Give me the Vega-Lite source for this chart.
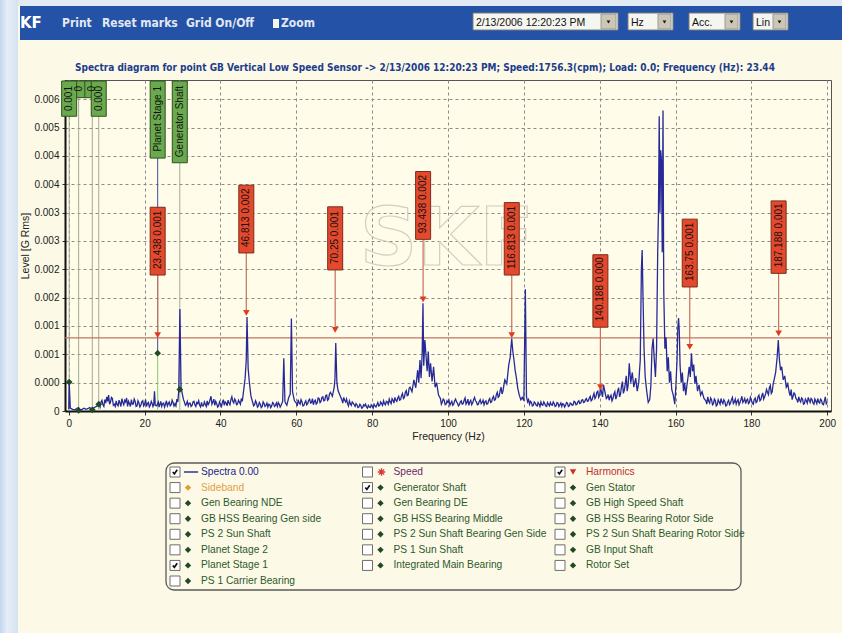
{
  "$schema": "https://vega.github.io/schema/vega-lite/v6.json",
  "width": 766,
  "height": 331,
  "autosize": "none",
  "padding": {"left": 65, "top": 80, "right": 11, "bottom": 222},
  "background": "#fcf9e6",
  "config": {
    "font": "Liberation Sans",
    "view": {"fill": "#fffdea", "stroke": "#555555", "strokeWidth": 1}
  },
  "title": {
    "text": "Spectra diagram for point GB Vertical Low Speed Sensor -> 2/13/2006 12:20:23 PM; Speed:1756.3(cpm); Load: 0.0; Frequency (Hz): 23.44",
    "font": "DejaVu Sans Condensed",
    "fontSize": 10,
    "fontWeight": "bold",
    "color": "#1d3d8d",
    "anchor": "middle",
    "frame": "group",
    "dx": -23,
    "dy": 80,
    "offset": 7
  },
  "datasets": {
    "spectrum": [
      {"f":0,"a":0.00003},{"f":0.1,"a":0.00051},{"f":0.4,"a":0.00005},{"f":1,"a":0.00003},{"f":1.5,"a":0.00002},{"f":2,"a":0.00004},{"f":2.5,"a":0.00006},{"f":3,"a":0.00002},{"f":3.5,"a":0.00003},{"f":4,"a":0.00005},{"f":4.5,"a":0.00003},{"f":5,"a":0.00004},{"f":5.5,"a":0.00006},{"f":6,"a":0.00003},{"f":6.5,"a":0.00005},{"f":7,"a":0.00007},{"f":7.5,"a":0.00009},{"f":8,"a":0.00012},{"f":8.5,"a":0.00016},{"f":9,"a":0.00011},{"f":9.5,"a":0.0002},
      {"f":10,"a":0.00025},{"f":10.5,"a":0.00028},{"f":11,"a":0.00016},{"f":11.5,"a":0.00022},{"f":12,"a":0.00012},{"f":12.5,"a":0.00018},{"f":13,"a":0.00009},{"f":13.5,"a":0.00014},{"f":14,"a":0.00022},{"f":14.5,"a":0.00011},{"f":15,"a":0.00016},{"f":15.5,"a":0.00008},{"f":16,"a":0.00013},{"f":16.5,"a":0.0002},{"f":17,"a":0.00012},{"f":17.5,"a":0.00017},{"f":18,"a":0.00009},{"f":18.5,"a":0.00014},{"f":19,"a":0.0001},{"f":19.5,"a":0.00018},
      {"f":20,"a":0.00012},{"f":20.5,"a":0.00008},{"f":21,"a":0.00015},{"f":21.5,"a":0.0001},{"f":22,"a":0.00013},{"f":22.4,"a":0.00011},{"f":22.6,"a":0.00035},{"f":22.8,"a":0.0001},{"f":23.2,"a":0.00009},{"f":23.6,"a":0.00016},{"f":24,"a":0.00011},{"f":24.5,"a":0.00008},{"f":25,"a":0.00014},{"f":25.5,"a":0.00012},{"f":26,"a":0.00009},{"f":26.5,"a":0.00016},{"f":27,"a":0.00011},{"f":27.5,"a":0.00015},{"f":28,"a":0.00013},{"f":28.5,"a":0.00021},{"f":29,"a":0.00036},{"f":29.3,"a":0.0018},{"f":29.6,"a":0.00042},
      {"f":30,"a":0.00028},{"f":30.5,"a":0.00016},{"f":31,"a":0.00012},{"f":31.5,"a":0.00009},{"f":32,"a":0.00014},{"f":32.5,"a":0.0001},{"f":33,"a":0.00017},{"f":33.5,"a":0.00008},{"f":34,"a":0.00013},{"f":34.5,"a":0.0001},{"f":35,"a":0.00015},{"f":35.5,"a":0.00009},{"f":36,"a":0.00012},{"f":36.5,"a":0.00018},{"f":37,"a":0.00014},{"f":37.5,"a":0.00026},{"f":38,"a":0.00016},{"f":38.5,"a":0.0001},{"f":39,"a":0.00013},{"f":39.5,"a":0.00009},
      {"f":40,"a":0.00012},{"f":40.5,"a":0.00015},{"f":41,"a":0.0001},{"f":41.5,"a":0.00014},{"f":42,"a":0.00019},{"f":42.5,"a":0.00011},{"f":43,"a":0.00025},{"f":43.5,"a":0.00014},{"f":44,"a":0.00018},{"f":44.5,"a":0.00012},{"f":45,"a":0.00016},{"f":45.5,"a":0.00022},{"f":46,"a":0.0003},{"f":46.5,"a":0.00058},{"f":46.8,"a":0.0009},{"f":47,"a":0.00166},{"f":47.3,"a":0.00075},{"f":47.6,"a":0.00052},{"f":48,"a":0.00028},{"f":48.5,"a":0.00015},{"f":49,"a":0.00011},{"f":49.5,"a":0.00014},
      {"f":50,"a":0.00009},{"f":50.5,"a":0.00012},{"f":51,"a":0.00008},{"f":51.5,"a":0.00013},{"f":52,"a":0.0001},{"f":52.5,"a":0.00007},{"f":53,"a":0.00011},{"f":53.5,"a":0.00009},{"f":54,"a":0.00013},{"f":54.5,"a":0.0001},{"f":55,"a":0.00008},{"f":55.5,"a":0.00012},{"f":56,"a":0.0001},{"f":56.4,"a":0.00017},{"f":56.7,"a":0.00093},{"f":57,"a":0.00016},{"f":57.5,"a":0.0001},{"f":58,"a":0.00024},{"f":58.4,"a":0.0003},{"f":58.7,"a":0.00163},{"f":59,"a":0.00034},{"f":59.5,"a":0.00018},
      {"f":60,"a":0.00014},{"f":60.5,"a":0.0002},{"f":61,"a":0.00012},{"f":61.5,"a":0.00016},{"f":62,"a":0.0001},{"f":62.5,"a":0.00018},{"f":63,"a":0.00013},{"f":63.5,"a":0.00021},{"f":64,"a":0.00015},{"f":64.5,"a":0.00011},{"f":65,"a":0.00019},{"f":65.5,"a":0.00014},{"f":66,"a":0.00022},{"f":66.5,"a":0.00017},{"f":67,"a":0.00025},{"f":67.5,"a":0.00019},{"f":68,"a":0.00028},{"f":68.5,"a":0.00021},{"f":69,"a":0.00033},{"f":69.5,"a":0.00026},{"f":70,"a":0.00042},{"f":70.2,"a":0.00058},{"f":70.4,"a":0.0012},{"f":70.7,"a":0.0005},{"f":71,"a":0.00036},{"f":71.5,"a":0.00028},
      {"f":72,"a":0.0002},{"f":72.5,"a":0.00024},{"f":73,"a":0.00016},{"f":73.5,"a":0.00013},{"f":74,"a":0.00018},{"f":74.5,"a":0.0001},{"f":75,"a":0.00014},{"f":75.5,"a":0.00008},{"f":76,"a":0.00011},{"f":76.5,"a":0.00007},{"f":77,"a":0.0001},{"f":77.5,"a":0.00006},{"f":78,"a":0.00009},{"f":78.5,"a":0.00007},{"f":79,"a":0.0001},{"f":79.5,"a":0.00006},
      {"f":80,"a":0.00008},{"f":80.5,"a":0.00012},{"f":81,"a":0.00007},{"f":81.5,"a":0.00015},{"f":82,"a":0.0001},{"f":82.5,"a":0.00013},{"f":83,"a":0.00018},{"f":83.5,"a":0.00011},{"f":84,"a":0.00016},{"f":84.5,"a":0.00021},{"f":85,"a":0.00013},{"f":85.5,"a":0.00019},{"f":86,"a":0.00024},{"f":86.5,"a":0.00017},{"f":87,"a":0.00026},{"f":87.5,"a":0.0002},{"f":88,"a":0.00031},{"f":88.5,"a":0.00024},{"f":89,"a":0.00036},{"f":89.5,"a":0.00028},
      {"f":90,"a":0.00042},{"f":90.5,"a":0.00034},{"f":91,"a":0.00055},{"f":91.5,"a":0.00041},{"f":92,"a":0.00072},{"f":92.3,"a":0.0005},{"f":92.6,"a":0.0009},{"f":92.9,"a":0.00058},{"f":93.2,"a":0.00104},{"f":93.4,"a":0.0019},{"f":93.6,"a":0.0008},{"f":93.9,"a":0.00125},{"f":94.2,"a":0.00098},{"f":94.5,"a":0.0007},{"f":94.8,"a":0.00105},{"f":95.1,"a":0.0006},{"f":95.4,"a":0.00084},{"f":95.8,"a":0.00052},{"f":96.2,"a":0.00078},{"f":96.6,"a":0.00042},{"f":97,"a":0.0005},{"f":97.5,"a":0.00028},{"f":98,"a":0.00022},{"f":98.5,"a":0.00016},{"f":99,"a":0.00019},{"f":99.5,"a":0.00012},
      {"f":100,"a":0.00015},{"f":100.5,"a":0.0001},{"f":101,"a":0.00017},{"f":101.5,"a":0.00012},{"f":102,"a":0.00021},{"f":102.5,"a":0.00014},{"f":103,"a":0.00011},{"f":103.5,"a":0.00018},{"f":104,"a":0.00013},{"f":104.5,"a":0.00023},{"f":105,"a":0.00015},{"f":105.5,"a":0.0001},{"f":106,"a":0.00019},{"f":106.5,"a":0.00014},{"f":107,"a":0.00024},{"f":107.5,"a":0.00016},{"f":108,"a":0.00012},{"f":108.5,"a":0.0002},{"f":109,"a":0.00015},{"f":109.5,"a":0.00011},
      {"f":110,"a":0.00018},{"f":110.5,"a":0.00013},{"f":111,"a":0.00022},{"f":111.5,"a":0.00016},{"f":112,"a":0.00026},{"f":112.5,"a":0.0002},{"f":113,"a":0.00033},{"f":113.5,"a":0.00026},{"f":114,"a":0.00042},{"f":114.5,"a":0.00035},{"f":115,"a":0.00055},{"f":115.5,"a":0.00048},{"f":116,"a":0.0008},{"f":116.4,"a":0.00095},{"f":116.8,"a":0.00128},{"f":117.1,"a":0.00105},{"f":117.4,"a":0.0009},{"f":117.7,"a":0.00072},{"f":118,"a":0.0006},{"f":118.4,"a":0.0004},{"f":118.8,"a":0.00028},{"f":119.2,"a":0.0002},{"f":119.6,"a":0.00024},{"f":120,"a":0.00018},{"f":120.4,"a":0.00215},{"f":120.7,"a":0.00025},
      {"f":121,"a":0.00016},{"f":121.5,"a":0.00012},{"f":122,"a":0.00015},{"f":122.5,"a":0.0001},{"f":123,"a":0.00014},{"f":123.5,"a":0.00009},{"f":124,"a":0.00012},{"f":124.5,"a":0.00016},{"f":125,"a":0.0001},{"f":125.5,"a":0.00013},{"f":126,"a":0.00008},{"f":126.5,"a":0.00012},{"f":127,"a":0.00015},{"f":127.5,"a":0.0001},{"f":128,"a":0.00013},{"f":128.5,"a":0.00009},{"f":129,"a":0.00014},{"f":129.5,"a":0.00011},
      {"f":130,"a":0.00008},{"f":130.5,"a":0.00012},{"f":131,"a":0.0001},{"f":131.5,"a":0.00014},{"f":132,"a":0.00009},{"f":132.5,"a":0.00013},{"f":133,"a":0.00011},{"f":133.5,"a":0.00016},{"f":134,"a":0.00012},{"f":134.5,"a":0.00018},{"f":135,"a":0.00014},{"f":135.5,"a":0.0002},{"f":136,"a":0.00016},{"f":136.5,"a":0.00022},{"f":137,"a":0.00018},{"f":137.5,"a":0.00026},{"f":138,"a":0.0002},{"f":138.5,"a":0.00031},{"f":139,"a":0.00025},{"f":139.5,"a":0.00035},
      {"f":140,"a":0.00028},{"f":140.2,"a":0.00042},{"f":140.5,"a":0.00033},{"f":141,"a":0.00046},{"f":141.5,"a":0.0003},{"f":142,"a":0.00024},{"f":142.5,"a":0.00019},{"f":143,"a":0.00028},{"f":143.5,"a":0.00022},{"f":144,"a":0.00034},{"f":144.5,"a":0.00026},{"f":145,"a":0.00041},{"f":145.5,"a":0.0003},{"f":146,"a":0.00052},{"f":146.5,"a":0.00037},{"f":147,"a":0.00062},{"f":147.5,"a":0.00045},{"f":147.8,"a":0.00084},{"f":148.2,"a":0.0005},{"f":148.6,"a":0.00068},{"f":149,"a":0.00042},{"f":149.5,"a":0.00058},{"f":149.9,"a":0.00035},
      {"f":150.3,"a":0.0005},{"f":150.7,"a":0.0009},{"f":151,"a":0.0025},{"f":151.2,"a":0.00284},{"f":151.4,"a":0.0021},{"f":151.7,"a":0.0011},{"f":152,"a":0.0006},{"f":152.4,"a":0.00035},{"f":152.8,"a":0.00015},{"f":153.2,"a":0.0002},{"f":153.5,"a":0.00045},{"f":153.8,"a":0.0011},{"f":154.1,"a":0.00128},{"f":154.4,"a":0.0009},{"f":154.7,"a":0.0006},{"f":155,"a":0.0011},{"f":155.3,"a":0.0028},{"f":155.5,"a":0.0035},{"f":155.7,"a":0.0052},{"f":155.9,"a":0.0035},{"f":156.1,"a":0.0046},{"f":156.3,"a":0.0044},{"f":156.5,"a":0.0028},{"f":156.7,"a":0.0053},{"f":156.9,"a":0.0021},{"f":157.2,"a":0.0011},{"f":157.5,"a":0.0013},{"f":157.8,"a":0.0007},{"f":158.1,"a":0.00095},{"f":158.4,"a":0.0005},{"f":158.7,"a":0.0007},{"f":159,"a":0.00038},{"f":159.4,"a":0.00028},{"f":159.8,"a":0.00012},
      {"f":160.1,"a":0.00045},{"f":160.4,"a":0.0009},{"f":160.6,"a":0.00145},{"f":160.8,"a":0.00164},{"f":161,"a":0.0014},{"f":161.2,"a":0.0008},{"f":161.5,"a":0.0005},{"f":161.8,"a":0.00068},{"f":162.1,"a":0.00035},{"f":162.4,"a":0.0005},{"f":162.7,"a":0.00028},{"f":163,"a":0.00045},{"f":163.3,"a":0.0006},{"f":163.6,"a":0.00078},{"f":163.9,"a":0.0006},{"f":164.2,"a":0.00102},{"f":164.5,"a":0.0007},{"f":164.8,"a":0.00082},{"f":165.1,"a":0.00048},{"f":165.4,"a":0.00062},{"f":165.8,"a":0.00035},{"f":166.2,"a":0.00046},{"f":166.6,"a":0.00028},{"f":167,"a":0.00034},{"f":167.5,"a":0.00022},{"f":168,"a":0.00018},{"f":168.5,"a":0.00025},{"f":169,"a":0.00014},{"f":169.5,"a":0.0002},
      {"f":170,"a":0.00013},{"f":170.5,"a":0.00018},{"f":171,"a":0.00011},{"f":171.5,"a":0.00016},{"f":172,"a":0.00022},{"f":172.5,"a":0.00013},{"f":173,"a":0.00017},{"f":173.5,"a":0.0001},{"f":174,"a":0.00019},{"f":174.5,"a":0.00014},{"f":175,"a":0.00024},{"f":175.5,"a":0.00016},{"f":176,"a":0.00012},{"f":176.5,"a":0.0002},{"f":177,"a":0.00015},{"f":177.5,"a":0.00026},{"f":178,"a":0.00018},{"f":178.5,"a":0.00013},{"f":179,"a":0.00021},{"f":179.5,"a":0.00015},
      {"f":180,"a":0.00019},{"f":180.5,"a":0.00012},{"f":181,"a":0.00023},{"f":181.5,"a":0.00017},{"f":182,"a":0.00028},{"f":182.5,"a":0.0002},{"f":183,"a":0.00032},{"f":183.5,"a":0.00025},{"f":184,"a":0.00038},{"f":184.5,"a":0.00029},{"f":185,"a":0.00045},{"f":185.5,"a":0.00034},{"f":186,"a":0.00055},{"f":186.4,"a":0.00068},{"f":186.8,"a":0.00095},{"f":187.1,"a":0.00125},{"f":187.4,"a":0.0009},{"f":187.7,"a":0.00072},{"f":188,"a":0.00078},{"f":188.4,"a":0.00055},{"f":188.8,"a":0.00062},{"f":189.2,"a":0.00042},{"f":189.6,"a":0.00048},
      {"f":190,"a":0.00032},{"f":190.5,"a":0.00038},{"f":191,"a":0.00026},{"f":191.5,"a":0.0003},{"f":192,"a":0.0002},{"f":192.5,"a":0.00025},{"f":193,"a":0.00016},{"f":193.5,"a":0.00021},{"f":194,"a":0.00013},{"f":194.5,"a":0.00018},{"f":195,"a":0.00024},{"f":195.5,"a":0.00015},{"f":196,"a":0.0002},{"f":196.5,"a":0.00012},{"f":197,"a":0.00017},{"f":197.5,"a":0.00022},{"f":198,"a":0.00014},{"f":198.5,"a":0.00019},{"f":199,"a":0.00011},{"f":199.5,"a":0.00025},{"f":200,"a":0.00016},
      {"f":8.25,"a":0.00007},{"f":8.75,"a":0.00019},{"f":9.25,"a":0.00008},{"f":9.75,"a":0.00014},{"f":10.25,"a":0.00017},{"f":10.75,"a":0.00012},{"f":11.25,"a":0.00024},{"f":11.75,"a":0.0001},{"f":12.25,"a":0.00008},{"f":12.75,"a":0.00011},{"f":13.25,"a":0.00019},{"f":13.75,"a":0.00008},{"f":14.25,"a":0.00015},{"f":14.75,"a":0.00019},{"f":15.25,"a":0.00023},{"f":15.75,"a":0.00017},{"f":16.25,"a":0.00008},{"f":16.75,"a":0.00012},{"f":17.25,"a":0.00021},{"f":17.75,"a":0.00008},{"f":18.25,"a":0.00018},{"f":18.75,"a":0.00007},{"f":19.25,"a":0.00016},{"f":19.75,"a":0.00009},
      {"f":20.25,"a":0.0002},{"f":20.75,"a":0.00013},{"f":21.25,"a":0.00007},{"f":21.75,"a":0.00017},{"f":22.2,"a":0.00008},{"f":23.4,"a":0.00013},{"f":23.8,"a":0.00007},{"f":24.25,"a":0.00017},{"f":24.75,"a":0.00013},{"f":25.25,"a":0.00007},{"f":25.75,"a":0.00018},{"f":26.25,"a":0.00013},{"f":26.75,"a":0.00009},{"f":27.25,"a":0.00019},{"f":27.75,"a":0.00009},{"f":28.25,"a":0.00009},{"f":28.75,"a":0.00016},
      {"f":30.25,"a":0.0002},{"f":30.75,"a":0.0001},{"f":31.25,"a":0.00017},{"f":31.75,"a":0.00014},{"f":32.25,"a":0.00008},{"f":32.75,"a":0.00016},{"f":33.25,"a":0.00011},{"f":33.75,"a":0.00015},{"f":34.25,"a":0.00018},{"f":34.75,"a":0.00007},{"f":35.25,"a":0.00009},{"f":35.75,"a":0.00016},{"f":36.25,"a":0.00008},{"f":36.75,"a":0.00011},{"f":37.25,"a":0.0002},{"f":37.75,"a":0.00012},{"f":38.25,"a":0.00021},{"f":38.75,"a":0.00017},{"f":39.25,"a":0.00007},{"f":39.75,"a":0.00016},
      {"f":40.25,"a":0.00008},{"f":40.75,"a":0.0002},{"f":41.25,"a":0.00016},{"f":41.75,"a":0.00009},{"f":42.25,"a":0.00014},{"f":42.75,"a":0.0002},{"f":43.25,"a":0.00017},{"f":43.75,"a":0.00021},{"f":44.25,"a":0.00011},{"f":44.75,"a":0.00019},{"f":45.25,"a":0.00012},{"f":45.75,"a":0.00017},
      {"f":48.25,"a":0.00021},{"f":48.75,"a":0.00009},{"f":49.25,"a":0.00018},{"f":49.75,"a":0.00007},{"f":50.25,"a":0.00015},{"f":50.75,"a":0.00006},{"f":51.25,"a":0.00016},{"f":51.75,"a":0.00008},{"f":52.25,"a":0.00014},{"f":52.75,"a":0.00012},{"f":53.25,"a":0.00006},{"f":53.75,"a":0.00015},{"f":54.25,"a":0.00008},{"f":54.75,"a":0.00014},{"f":55.25,"a":0.00015},{"f":55.75,"a":0.00007},
      {"f":60.25,"a":0.00009},{"f":60.75,"a":0.00014},{"f":61.25,"a":0.0002},{"f":61.75,"a":0.00009},{"f":62.25,"a":0.00015},{"f":62.75,"a":0.00011},{"f":63.25,"a":0.00019},{"f":63.75,"a":0.00014},{"f":64.25,"a":0.00022},{"f":64.75,"a":0.00017},{"f":65.25,"a":0.00012},{"f":65.75,"a":0.00023},{"f":66.25,"a":0.00015},{"f":66.75,"a":0.00024},{"f":67.25,"a":0.00018},{"f":67.75,"a":0.00027},{"f":68.25,"a":0.00019},{"f":68.75,"a":0.0003},
      {"f":72.25,"a":0.00014},{"f":72.75,"a":0.00019},{"f":73.25,"a":0.00021},{"f":73.75,"a":0.00009},{"f":74.25,"a":0.00013},{"f":74.75,"a":0.00016},{"f":75.25,"a":0.00011},{"f":75.75,"a":0.00013},{"f":76.25,"a":0.00006},{"f":76.75,"a":0.00012},{"f":77.25,"a":0.00005},{"f":77.75,"a":0.00011},{"f":78.25,"a":0.00012},{"f":78.75,"a":0.00005},{"f":79.25,"a":0.00007},{"f":79.75,"a":0.00011},
      {"f":80.25,"a":0.00005},{"f":80.75,"a":0.00009},{"f":81.25,"a":0.00011},{"f":81.75,"a":0.00009},{"f":82.25,"a":0.00016},{"f":82.75,"a":0.0001},{"f":83.25,"a":0.00013},{"f":83.75,"a":0.00017},{"f":84.25,"a":0.00012},{"f":84.75,"a":0.00016},{"f":85.25,"a":0.00022},{"f":85.75,"a":0.00014},{"f":86.25,"a":0.00019},{"f":86.75,"a":0.00023},{"f":87.25,"a":0.00019},{"f":87.75,"a":0.00027},{"f":88.25,"a":0.00022},{"f":88.75,"a":0.00033},{"f":89.25,"a":0.00027},{"f":89.75,"a":0.0004},
      {"f":98.25,"a":0.00012},{"f":98.75,"a":0.00021},{"f":99.25,"a":0.00011},{"f":99.75,"a":0.00018},{"f":100.25,"a":0.00019},{"f":100.75,"a":0.00014},{"f":101.25,"a":0.0001},{"f":101.75,"a":0.00018},{"f":102.25,"a":0.00016},{"f":102.75,"a":0.00009},{"f":103.25,"a":0.00016},{"f":103.75,"a":0.00012},{"f":104.25,"a":0.00019},{"f":104.75,"a":0.00012},{"f":105.25,"a":0.00021},{"f":105.75,"a":0.00016},{"f":106.25,"a":0.00011},{"f":106.75,"a":0.0002},{"f":107.25,"a":0.00018},{"f":107.75,"a":0.00011},{"f":108.25,"a":0.00017},{"f":108.75,"a":0.00013},{"f":109.25,"a":0.00019},{"f":109.75,"a":0.00016},
      {"f":110.25,"a":0.00012},{"f":110.75,"a":0.00019},{"f":111.25,"a":0.00015},{"f":111.75,"a":0.00023},{"f":112.25,"a":0.00019},{"f":112.75,"a":0.00029},{"f":113.25,"a":0.00024},{"f":113.75,"a":0.00036},{"f":114.25,"a":0.0003},{"f":114.75,"a":0.00046},
      {"f":121.25,"a":0.0002},{"f":121.75,"a":0.00017},{"f":122.25,"a":0.00009},{"f":122.75,"a":0.00016},{"f":123.25,"a":0.0001},{"f":123.75,"a":0.00015},{"f":124.25,"a":0.00008},{"f":124.75,"a":0.00011},{"f":125.25,"a":0.00016},{"f":125.75,"a":0.00009},{"f":126.25,"a":0.00015},{"f":126.75,"a":0.00009},{"f":127.25,"a":0.00011},{"f":127.75,"a":0.00016},{"f":128.25,"a":0.00008},{"f":128.75,"a":0.00015},{"f":129.25,"a":0.00008},{"f":129.75,"a":0.00014},
      {"f":130.25,"a":0.00013},{"f":130.75,"a":0.00007},{"f":131.25,"a":0.00015},{"f":131.75,"a":0.00008},{"f":132.25,"a":0.00014},{"f":132.75,"a":0.0001},{"f":133.25,"a":0.00017},{"f":133.75,"a":0.00011},{"f":134.25,"a":0.00016},{"f":134.75,"a":0.00013},{"f":135.25,"a":0.00019},{"f":135.75,"a":0.00015},{"f":136.25,"a":0.0002},{"f":136.75,"a":0.00017},{"f":137.25,"a":0.00023},{"f":137.75,"a":0.00018},{"f":138.25,"a":0.00026},{"f":138.75,"a":0.00022},{"f":139.25,"a":0.00033},{"f":139.75,"a":0.00024},
      {"f":140.75,"a":0.00025},{"f":141.25,"a":0.00038},{"f":141.75,"a":0.00022},{"f":142.25,"a":0.00029},{"f":142.75,"a":0.00025},{"f":143.25,"a":0.00018},{"f":143.75,"a":0.0003},{"f":144.25,"a":0.00021},{"f":144.75,"a":0.00036},{"f":145.25,"a":0.00025},{"f":145.75,"a":0.00044},{"f":146.25,"a":0.00031},{"f":146.75,"a":0.00048},{"f":147.25,"a":0.00035},
      {"f":168.25,"a":0.00012},{"f":168.75,"a":0.00017},{"f":169.25,"a":0.00023},{"f":169.75,"a":0.00011},{"f":170.25,"a":0.00021},{"f":170.75,"a":0.00009},{"f":171.25,"a":0.0002},{"f":171.75,"a":0.00012},{"f":172.25,"a":0.00016},{"f":172.75,"a":0.0002},{"f":173.25,"a":0.00009},{"f":173.75,"a":0.00016},{"f":174.25,"a":0.00011},{"f":174.75,"a":0.0002},{"f":175.25,"a":0.00013},{"f":175.75,"a":0.00021},{"f":176.25,"a":0.00017},{"f":176.75,"a":0.00011},{"f":177.25,"a":0.0002},{"f":177.75,"a":0.00015},{"f":178.25,"a":0.00022},{"f":178.75,"a":0.00019},{"f":179.25,"a":0.00013},{"f":179.75,"a":0.00024},
      {"f":180.25,"a":0.00014},{"f":180.75,"a":0.0002},{"f":181.25,"a":0.00015},{"f":181.75,"a":0.00025},{"f":182.25,"a":0.00018},{"f":182.75,"a":0.00027},{"f":183.25,"a":0.00021},{"f":183.75,"a":0.0003},{"f":184.25,"a":0.00033},{"f":184.75,"a":0.00041},{"f":185.25,"a":0.00031},{"f":185.75,"a":0.00048},
      {"f":190.25,"a":0.00027},{"f":190.75,"a":0.0002},{"f":191.25,"a":0.00032},{"f":191.75,"a":0.00022},{"f":192.25,"a":0.00015},{"f":192.75,"a":0.00019},{"f":193.25,"a":0.00023},{"f":193.75,"a":0.00012},{"f":194.25,"a":0.00021},{"f":194.75,"a":0.00014},{"f":195.25,"a":0.00019},{"f":195.75,"a":0.00022},{"f":196.25,"a":0.00014},{"f":196.75,"a":0.00021},{"f":197.25,"a":0.00013},{"f":197.75,"a":0.00016},{"f":198.25,"a":0.00021},{"f":198.75,"a":0.00012},{"f":199.25,"a":0.00018},{"f":199.75,"a":0.00013}
    ],
    "harmonics": [
      {"f":23.438,"lvl":0.00134,"label":"23.438 0.001"},
      {"f":46.813,"lvl":0.00173,"label":"46.813 0.002"},
      {"f":70.25,"lvl":0.00143,"label":"70.25 0.001"},
      {"f":93.438,"lvl":0.00197,"label":"93.438 0.002"},
      {"f":116.813,"lvl":0.00134,"label":"116.813 0.001"},
      {"f":140.188,"lvl":0.00042,"label":"140.188 0.000"},
      {"f":163.75,"lvl":0.00113,"label":"163.75 0.001"},
      {"f":187.188,"lvl":0.00137,"label":"187.188 0.001"}
    ],
    "markers": [
      {"f":2.6,"lvl":0.00001,"tag":"0"},
      {"f":0.1,"lvl":0.00051,"tag":"0.001"},
      {"f":6.2,"lvl":0.00002,"tag":"0"},
      {"f":7.9,"lvl":0.00012,"tag":"0.000"},
      {"f":23.44,"lvl":0.00102,"tag":"Planet Stage 1"},
      {"f":29.27,"lvl":0.00038,"tag":"Generator Shaft"}
    ],
    "legend": [
      {"name":"Spectra 0.00","col":1,"row":1,"kind":"spectra","on":true},
      {"name":"Speed","col":2,"row":1,"kind":"speed","on":false},
      {"name":"Harmonics","col":3,"row":1,"kind":"harmonic","on":true},
      {"name":"Sideband","col":1,"row":2,"kind":"sideband","on":false},
      {"name":"Generator Shaft","col":2,"row":2,"kind":"fault","on":true},
      {"name":"Gen Stator","col":3,"row":2,"kind":"fault","on":false},
      {"name":"Gen Bearing NDE","col":1,"row":3,"kind":"fault","on":false},
      {"name":"Gen Bearing DE","col":2,"row":3,"kind":"fault","on":false},
      {"name":"GB High Speed Shaft","col":3,"row":3,"kind":"fault","on":false},
      {"name":"GB HSS Bearing Gen side","col":1,"row":4,"kind":"fault","on":false},
      {"name":"GB HSS Bearing Middle","col":2,"row":4,"kind":"fault","on":false},
      {"name":"GB HSS Bearing Rotor Side","col":3,"row":4,"kind":"fault","on":false},
      {"name":"PS 2 Sun Shaft","col":1,"row":5,"kind":"fault","on":false},
      {"name":"PS 2 Sun Shaft Bearing Gen Side","col":2,"row":5,"kind":"fault","on":false},
      {"name":"PS 2 Sun Shaft Bearing Rotor Side","col":3,"row":5,"kind":"fault","on":false},
      {"name":"Planet Stage 2","col":1,"row":6,"kind":"fault","on":false},
      {"name":"PS 1 Sun Shaft","col":2,"row":6,"kind":"fault","on":false},
      {"name":"GB Input Shaft","col":3,"row":6,"kind":"fault","on":false},
      {"name":"Planet Stage 1","col":1,"row":7,"kind":"fault","on":true},
      {"name":"Integrated Main Bearing","col":2,"row":7,"kind":"fault","on":false},
      {"name":"Rotor Set","col":3,"row":7,"kind":"fault","on":false},
      {"name":"PS 1 Carrier Bearing","col":1,"row":8,"kind":"fault","on":false}
    ]
  },
  "layer": [
    {
      "layer": [
        {"data": {"values": [{}]}, "mark": {"type": "rect", "x": -65, "x2": -47, "y": -80, "y2": 553, "fill": {"gradient": "linear", "x1": 0, "y1": 0, "x2": 1, "y2": 0, "stops": [{"offset": 0, "color": "#c3d6ee"}, {"offset": 0.4, "color": "#e6eef8"}, {"offset": 1, "color": "#d4e2f1"}]}}, "encoding": {}},
        {"data": {"values": [{}]}, "mark": {"type": "rect", "x": -47, "x2": 777, "y": -80, "y2": -74, "fill": "#e1e9f3"}, "encoding": {}},
        {"data": {"values": [{}]}, "mark": {"type": "rect", "x": -45, "x2": 777, "y": -74, "y2": -40, "fill": "#2452a6"}, "encoding": {}},
        {"data": {"values": [{}]}, "mark": {"type": "text", "x": -45, "y": -52, "text": "KF", "font": "DejaVu Sans", "fontSize": 15, "fontWeight": "bold", "color": "#ffffff", "align": "left", "baseline": "alphabetic"}, "encoding": {}},
        {"data": {"values": [{}]}, "mark": {"type": "text", "x": -3, "y": -53, "text": "Print", "font": "DejaVu Sans Condensed", "fontSize": 12, "fontWeight": "bold", "color": "#e2e8f3", "align": "left", "baseline": "alphabetic"}, "encoding": {}},
        {"data": {"values": [{}]}, "mark": {"type": "text", "x": 37, "y": -53, "text": "Reset marks", "font": "DejaVu Sans Condensed", "fontSize": 12, "fontWeight": "bold", "color": "#e2e8f3", "align": "left", "baseline": "alphabetic"}, "encoding": {}},
        {"data": {"values": [{}]}, "mark": {"type": "text", "x": 121, "y": -53, "text": "Grid On/Off", "font": "DejaVu Sans Condensed", "fontSize": 12, "fontWeight": "bold", "color": "#e2e8f3", "align": "left", "baseline": "alphabetic"}, "encoding": {}},
        {"data": {"values": [{}]}, "mark": {"type": "rect", "x": 208, "x2": 214, "y": -61, "y2": -52, "fill": "#f4f4f4"}, "encoding": {}},
        {"data": {"values": [{}]}, "mark": {"type": "text", "x": 216, "y": -53, "text": "Zoom", "font": "DejaVu Sans Condensed", "fontSize": 12, "fontWeight": "bold", "color": "#e2e8f3", "align": "left", "baseline": "alphabetic"}, "encoding": {}},
        {"data": {"values": [{}]}, "mark": {"type": "rect", "x": 408, "x2": 553, "y": -67, "y2": -50, "fill": "#f6f6f0", "stroke": "#7a7a7a", "strokeWidth": 1}, "encoding": {}},
        {"data": {"values": [{}]}, "mark": {"type": "text", "x": 411, "y": -54, "text": "2/13/2006 12:20:23 PM", "font": "Liberation Sans", "fontSize": 10.5, "color": "#111111", "align": "left", "baseline": "alphabetic"}, "encoding": {}},
        {"data": {"values": [{}]}, "mark": {"type": "rect", "x": 536, "x2": 551, "y": -66, "y2": -51, "fill": "#cbc6b6", "stroke": "#9a9a9a", "strokeWidth": 1}, "encoding": {}},
        {"data": {"values": [{}]}, "mark": {"type": "rect", "x": 563, "x2": 608, "y": -67, "y2": -50, "fill": "#f6f6f0", "stroke": "#7a7a7a", "strokeWidth": 1}, "encoding": {}},
        {"data": {"values": [{}]}, "mark": {"type": "text", "x": 566, "y": -54, "text": "Hz", "font": "Liberation Sans", "fontSize": 10.5, "color": "#111111", "align": "left", "baseline": "alphabetic"}, "encoding": {}},
        {"data": {"values": [{}]}, "mark": {"type": "rect", "x": 593, "x2": 606, "y": -66, "y2": -51, "fill": "#cbc6b6", "stroke": "#9a9a9a", "strokeWidth": 1}, "encoding": {}},
        {"data": {"values": [{}]}, "mark": {"type": "rect", "x": 624, "x2": 675, "y": -67, "y2": -50, "fill": "#f6f6f0", "stroke": "#7a7a7a", "strokeWidth": 1}, "encoding": {}},
        {"data": {"values": [{}]}, "mark": {"type": "text", "x": 627, "y": -54, "text": "Acc.", "font": "Liberation Sans", "fontSize": 10.5, "color": "#111111", "align": "left", "baseline": "alphabetic"}, "encoding": {}},
        {"data": {"values": [{}]}, "mark": {"type": "rect", "x": 660, "x2": 673, "y": -66, "y2": -51, "fill": "#cbc6b6", "stroke": "#9a9a9a", "strokeWidth": 1}, "encoding": {}},
        {"data": {"values": [{}]}, "mark": {"type": "rect", "x": 688, "x2": 723, "y": -67, "y2": -50, "fill": "#f6f6f0", "stroke": "#7a7a7a", "strokeWidth": 1}, "encoding": {}},
        {"data": {"values": [{}]}, "mark": {"type": "text", "x": 691, "y": -54, "text": "Lin", "font": "Liberation Sans", "fontSize": 10.5, "color": "#111111", "align": "left", "baseline": "alphabetic"}, "encoding": {}},
        {"data": {"values": [{}]}, "mark": {"type": "rect", "x": 708, "x2": 721, "y": -66, "y2": -51, "fill": "#cbc6b6", "stroke": "#9a9a9a", "strokeWidth": 1}, "encoding": {}},
        {"data": {"values": [{}]}, "mark": {"type": "point", "shape": "triangle-down", "filled": true, "color": "#111111", "size": 14, "x": 543.5, "y": -58, "opacity": 1}, "encoding": {}},
        {"data": {"values": [{}]}, "mark": {"type": "point", "shape": "triangle-down", "filled": true, "color": "#111111", "size": 14, "x": 599.5, "y": -58, "opacity": 1}, "encoding": {}},
        {"data": {"values": [{}]}, "mark": {"type": "point", "shape": "triangle-down", "filled": true, "color": "#111111", "size": 14, "x": 666.5, "y": -58, "opacity": 1}, "encoding": {}},
        {"data": {"values": [{}]}, "mark": {"type": "point", "shape": "triangle-down", "filled": true, "color": "#111111", "size": 14, "x": 714.5, "y": -58, "opacity": 1}, "encoding": {}},
        {
          "data": {"values": [{"mark": "SKF"}]},
          "mark": {"type": "text", "fontSize": 80, "fontWeight": "bold", "font": "DejaVu Sans", "fill": "transparent", "stroke": "#d3cfbd", "strokeWidth": 1.2, "baseline": "middle", "align": "center"},
          "encoding": {"x": {"datum": 99.7, "type": "quantitative"}, "y": {"datum": 0.003, "type": "quantitative"}, "text": {"field": "mark", "type": "nominal"}}
        },
        {
          "data": {"name": "markers"},
          "mark": {"type": "rule", "strokeWidth": 1},
          "encoding": {
            "x": {"field": "f", "type": "quantitative", "title": "Frequency (Hz)"},
            "y": {"field": "lvl", "type": "quantitative", "title": "Level [G Rms]"},
            "y2": {"value": 0},
            "color": {"condition": {"test": "datum.tag === 'Planet Stage 1'", "value": "#3d4d9e"}, "value": "#a5ab8e"}
          }
        },
        {
          "data": {"name": "markers"},
          "mark": {"type": "rule", "strokeWidth": 1},
          "encoding": {
            "x": {"field": "f", "type": "quantitative", "title": "Frequency (Hz)"},
            "y": {"field": "lvl", "type": "quantitative", "title": "Level [G Rms]"},
            "y2": {"value": 331},
            "color": {"condition": {"test": "datum.tag === 'Planet Stage 1'", "value": "#7fcf66"}, "value": "#a5ab8e"}
          }
        },
        {
          "data": {"values": [{"alarm": 0.00129}]},
          "mark": {"type": "rule", "color": "#c27462", "strokeWidth": 1.2},
          "encoding": {"y": {"field": "alarm", "type": "quantitative", "title": "Level [G Rms]"}}
        },
        {
          "data": {"name": "spectrum"},
          "mark": {"type": "line", "color": "#262a98", "strokeWidth": 1.3},
          "encoding": {
            "x": {"field": "f", "type": "quantitative", "title": "Frequency (Hz)",
              "scale": {"domain": [-1, 201], "nice": false, "zero": false},
              "axis": {"values": [0, 20, 40, 60, 80, 100, 120, 140, 160, 180, 200], "tickCount": 30, "grid": true, "gridDash": [3, 3], "gridColor": "#8a8a8a", "gridWidth": 1, "domainColor": "#111111", "domainWidth": 2, "tickColor": "#333333", "tickSize": 4, "labelPadding": 3, "labelFontSize": 10, "labelColor": "#222222", "titleFontSize": 10.5, "titleFontWeight": "normal", "titleColor": "#222222", "titlePadding": 3, "labelFlush": false}},
            "y": {"field": "a", "type": "quantitative", "title": "Level [G Rms]",
              "scale": {"domain": [0, 0.00584], "nice": false, "zero": false},
              "axis": {"values": [0, 0.0005, 0.001, 0.0015, 0.002, 0.0025, 0.003, 0.0035, 0.004, 0.0045, 0.005, 0.0055], "tickCount": 30, "labelExpr": "datum.value === 0 ? '0' : (datum.value > 0.0054 ? '0.006' : format(floor(datum.value * 1000 + 0.000001) / 1000, '.3f'))", "grid": true, "gridDash": [3, 3], "gridColor": "#8a8a8a", "gridWidth": 1, "domainColor": "#111111", "domainWidth": 2, "tickColor": "#333333", "tickSize": 3, "labelPadding": 3, "labelFontSize": 10, "labelColor": "#222222", "titleFontSize": 10.5, "titleFontWeight": "normal", "titleColor": "#222222", "titlePadding": 3}}
          }
        },
        {
          "data": {"name": "harmonics"},
          "mark": {"type": "rule", "color": "#c6705e", "strokeWidth": 1.2, "y2Offset": -60},
          "encoding": {
            "x": {"field": "f", "type": "quantitative", "title": "Frequency (Hz)"},
            "y": {"field": "lvl", "type": "quantitative", "title": "Level [G Rms]"},
            "y2": {"field": "lvl"}
          }
        },
        {
          "data": {"name": "harmonics"},
          "mark": {"type": "point", "shape": "triangle-down", "filled": true, "fill": "#e23a22", "opacity": 1, "size": 45},
          "encoding": {
            "x": {"field": "f", "type": "quantitative", "title": "Frequency (Hz)"},
            "y": {"field": "lvl", "type": "quantitative", "title": "Level [G Rms]"}
          }
        },
        {
          "data": {"name": "markers"},
          "mark": {"type": "point", "shape": "diamond", "filled": true, "fill": "#1f4a25", "opacity": 1, "size": 45},
          "encoding": {
            "x": {"field": "f", "type": "quantitative", "title": "Frequency (Hz)"},
            "y": {"field": "lvl", "type": "quantitative", "title": "Level [G Rms]"}
          }
        },
        {
          "data": {"name": "markers"},
          "mark": {"type": "rect", "fill": "#6aaa4e", "stroke": "#30501e", "strokeWidth": 1, "xOffset": -7.5, "x2Offset": 7.5, "yOffset": 1, "y2Offset": {"expr": "length(datum.tag) * 4.65 + 13"}},
          "encoding": {
            "x": {"field": "f", "type": "quantitative", "title": "Frequency (Hz)"},
            "x2": {"field": "f"},
            "y": {"value": 0},
            "y2": {"value": 0}
          }
        },
        {
          "data": {"name": "markers"},
          "mark": {"type": "text", "angle": 270, "align": "right", "baseline": "middle", "fontSize": 10, "color": "#111111"},
          "encoding": {
            "x": {"field": "f", "type": "quantitative", "title": "Frequency (Hz)"},
            "y": {"value": 6},
            "text": {"field": "tag", "type": "nominal"}
          }
        },
        {
          "data": {"name": "harmonics"},
          "mark": {"type": "rect", "fill": "#e5492d", "stroke": "#7a2a1a", "strokeWidth": 1, "xOffset": -7.5, "x2Offset": 7.5, "yOffset": -60, "y2Offset": {"expr": "-60 - (length(datum.label) * 4.65 + 12)"}},
          "encoding": {
            "x": {"field": "f", "type": "quantitative", "title": "Frequency (Hz)"},
            "x2": {"field": "f"},
            "y": {"field": "lvl", "type": "quantitative", "title": "Level [G Rms]"},
            "y2": {"field": "lvl"}
          }
        },
        {
          "data": {"name": "harmonics"},
          "mark": {"type": "text", "angle": 270, "align": "left", "baseline": "middle", "fontSize": 10, "color": "#111111", "yOffset": -66},
          "encoding": {
            "x": {"field": "f", "type": "quantitative", "title": "Frequency (Hz)"},
            "y": {"field": "lvl", "type": "quantitative", "title": "Level [G Rms]"},
            "text": {"field": "label", "type": "nominal"}
          }
        }
      ]
    },
    {
      "layer": [
        {
          "data": {"name": "legend"},
          "mark": {"type": "rect", "fill": "transparent", "stroke": "#5a5a5a", "strokeWidth": 1.3, "cornerRadius": 8, "xOffset": -9, "x2Offset": 181, "yOffset": -9, "y2Offset": 9},
          "encoding": {
            "x": {"aggregate": "min", "field": "col", "type": "quantitative", "axis": null},
            "x2": {"aggregate": "max", "field": "col"},
            "y": {"aggregate": "min", "field": "row", "type": "quantitative", "axis": null},
            "y2": {"aggregate": "max", "field": "row"}
          }
        },
        {
          "data": {"name": "legend"},
          "mark": {"type": "point", "shape": "square", "filled": true, "fill": "#ffffff", "stroke": "#6e6e6e", "strokeWidth": 1, "size": 100, "opacity": 1},
          "encoding": {
            "x": {"field": "col", "type": "quantitative", "axis": null, "scale": {"domain": [1, 3], "range": [110, 495], "nice": false, "zero": false}},
            "y": {"field": "row", "type": "quantitative", "axis": null, "scale": {"domain": [1, 8], "range": [392, 501], "nice": false, "zero": false}}
          }
        },
        {
          "data": {"name": "legend"},
          "transform": [{"filter": "datum.on"}],
          "mark": {"type": "point", "shape": "M-0.7,0 L-0.2,0.6 L0.7,-0.7", "filled": false, "stroke": "#111111", "strokeWidth": 1.7, "size": 40, "opacity": 1},
          "encoding": {
            "x": {"field": "col", "type": "quantitative", "axis": null},
            "y": {"field": "row", "type": "quantitative", "axis": null}
          }
        },
        {
          "data": {"name": "legend"},
          "transform": [{"filter": "datum.kind === 'fault' || datum.kind === 'sideband' || datum.kind === 'harmonic'"}],
          "mark": {"type": "point", "filled": true, "size": 40, "opacity": 1, "xOffset": 13},
          "encoding": {
            "x": {"field": "col", "type": "quantitative", "axis": null},
            "y": {"field": "row", "type": "quantitative", "axis": null},
            "shape": {"field": "kind", "type": "nominal", "legend": null, "scale": {"domain": ["fault", "sideband", "harmonic"], "range": ["diamond", "diamond", "triangle-down"]}},
            "fill": {"field": "kind", "type": "nominal", "legend": null, "scale": {"domain": ["fault", "sideband", "harmonic"], "range": ["#1f4a25", "#e69a32", "#d62a22"]}}
          }
        },
        {
          "data": {"name": "legend"},
          "transform": [{"filter": "datum.kind === 'spectra'"}],
          "mark": {"type": "point", "shape": "stroke", "filled": false, "stroke": "#24248c", "strokeWidth": 1.4, "size": 200, "opacity": 1, "xOffset": 16},
          "encoding": {
            "x": {"field": "col", "type": "quantitative", "axis": null},
            "y": {"field": "row", "type": "quantitative", "axis": null}
          }
        },
        {
          "data": {"name": "legend"},
          "transform": [{"filter": "datum.kind === 'speed'"}],
          "mark": {"type": "point", "shape": "M-1,0L1,0M0,-1L0,1M-0.7,-0.7L0.7,0.7M-0.7,0.7L0.7,-0.7", "filled": false, "stroke": "#d83a3a", "strokeWidth": 1.3, "size": 55, "opacity": 1, "xOffset": 14},
          "encoding": {
            "x": {"field": "col", "type": "quantitative", "axis": null},
            "y": {"field": "row", "type": "quantitative", "axis": null}
          }
        },
        {
          "data": {"name": "legend"},
          "mark": {"type": "text", "align": "left", "baseline": "middle", "fontSize": 10.2, "xOffset": 26},
          "encoding": {
            "x": {"field": "col", "type": "quantitative", "axis": null},
            "y": {"field": "row", "type": "quantitative", "axis": null},
            "text": {"field": "name", "type": "nominal"},
            "color": {"field": "kind", "type": "nominal", "legend": null, "scale": {"domain": ["spectra", "sideband", "speed", "harmonic", "fault"], "range": ["#24248c", "#e2a048", "#6a2a6a", "#c03030", "#2d5a2d"]}}
          }
        }
      ]
    }
  ],
  "resolve": {"scale": {"x": "independent", "y": "independent"}}
}
